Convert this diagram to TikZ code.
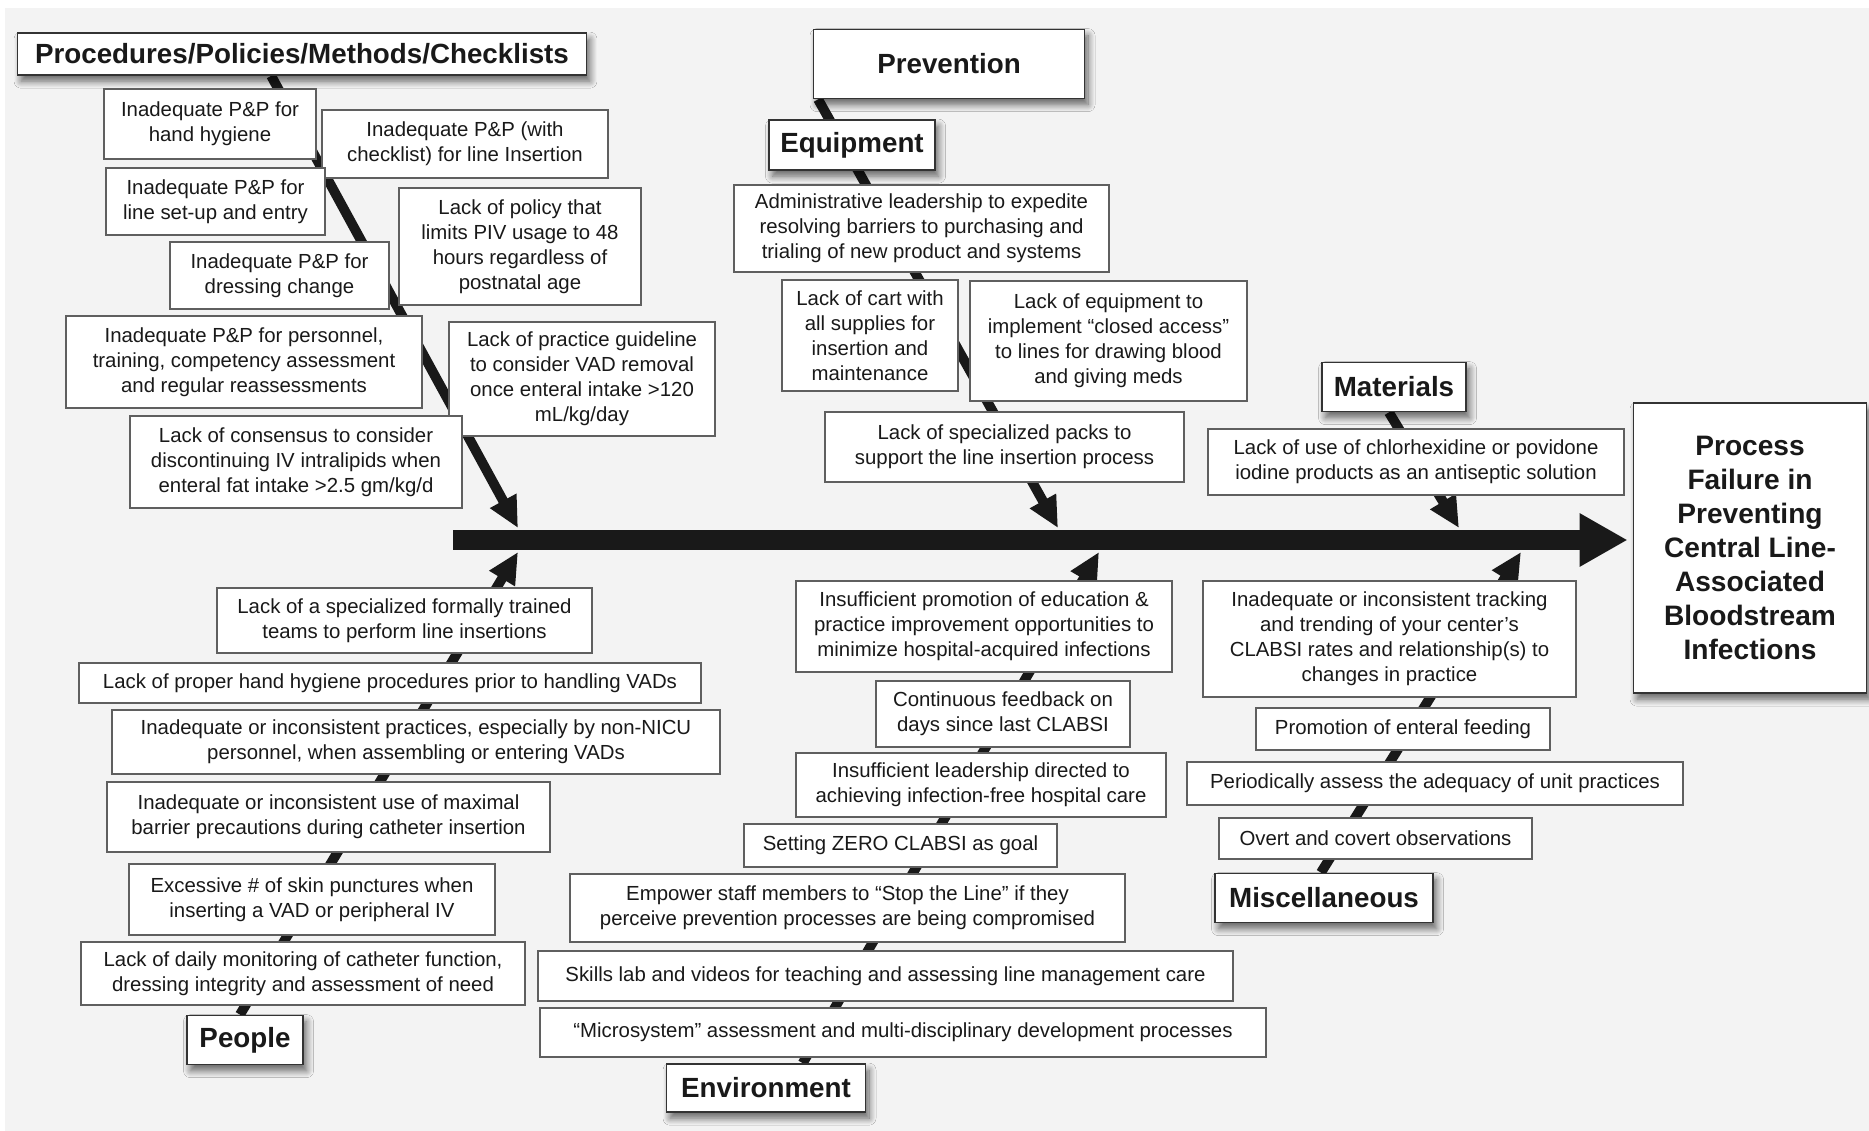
\documentclass[tikz,border=0pt]{standalone}
\usepackage{fontspec}
\setmainfont{Liberation Sans}
\usepackage{tikz}
\usetikzlibrary{positioning, calc, shadows.blur, arrows.meta, backgrounds}
\definecolor{fbBack}{RGB}{243,243,243}
\definecolor{fbInk}{RGB}{25,25,25}
\definecolor{fbEdge}{RGB}{95,95,95}

\begin{document}
\begin{tikzpicture}[x=0.02cm, y=-0.02cm,
    cause/.style={draw=fbEdge, fill=white, line width=0.8pt, inner sep=1pt, align=center, text=fbInk, font=\fontsize{11.6}{14.2}\selectfont},
    head/.style={draw=black!80, fill=white, line width=1pt, inner sep=1pt, align=center, text=fbInk, font=\fontsize{15.8}{19}\selectfont\bfseries,
      blur shadow={shadow xshift=2pt, shadow yshift=-3.5pt, shadow blur radius=4pt, shadow blur steps=10, shadow opacity=60}},
    wh/.style 2 args={minimum width=#1cm, minimum height=#2cm},
    branch/.style={line width=5.6pt, fbInk, -{Triangle[length=0.62cm, width=0.56cm]}},
    spine/.style={line width=11.4pt, fbInk, -{Triangle[length=0.96cm, width=1cm]}, shorten >=0.1cm}
  ]
  \useasboundingbox (0,0) rectangle (1869,1131);

  \node[head, wh={11.38}{0.84}] (proc) at (302,54) {Procedures/Policies/Methods/Checklists};
  \node[head, wh={5.42}{1.38}] (prev) at (949,64) {Prevention};
  \node[head, wh={3.32}{1.00}] (equip) at (852,145) {Equipment};
  \node[head, wh={2.88}{0.98}] (mat) at (1394,387) {Materials};
  \node[head, wh={2.32}{0.98}] (people) at (245,1040) {People};
  \node[head, wh={3.98}{0.96}] (env) at (766,1088) {Environment};
  \node[head, wh={4.36}{0.98}] (misc) at (1324,898) {Miscellaneous};
  \node[head, wh={4.66}{5.80}, font=\fontsize{16}{19.4}\selectfont\bfseries] (fail) at (1750,548)
    {Process\\Failure in\\Preventing\\Central Line-\\Associated\\Bloodstream\\Infections};

  \node[cause, wh={4.24}{1.40}] (pp1) at (210,124) {Inadequate P\&P for\\hand hygiene};
  \node[cause, wh={5.72}{1.36}] (pp2) at (465,144) {Inadequate P\&P (with\\checklist) for line Insertion};
  \node[cause, wh={4.38}{1.34}] (pp3) at (215.5,201.5) {Inadequate P\&P for\\line set-up and entry};
  \node[cause, wh={4.84}{2.34}] (pp4) at (520,246.5) {Lack of policy that\\limits PIV usage to 48\\hours regardless of\\postnatal age};
  \node[cause, wh={4.38}{1.34}] (pp5) at (279.5,275.5) {Inadequate P\&P for\\dressing change};
  \node[cause, wh={7.12}{1.84}] (pp6) at (244,362) {Inadequate P\&P for personnel,\\training, competency assessment\\and regular reassessments};
  \node[cause, wh={5.32}{2.28}] (pp7) at (582,379) {Lack of practice guideline\\to consider VAD removal\\once enteral intake >120\\mL/kg/day};
  \node[cause, wh={6.64}{1.84}] (pp8) at (296,462) {Lack of consensus to consider\\discontinuing IV intralipids when\\enteral fat intake >2.5 gm/kg/d};

  \node[cause, wh={7.50}{1.74}] (eq1) at (921.5,228.5) {Administrative leadership to expedite\\resolving barriers to purchasing and\\trialing of new product and systems};
  \node[cause, wh={3.52}{2.22}] (eq2) at (870,335.5) {Lack of cart with\\all supplies for\\insertion and\\maintenance};
  \node[cause, wh={5.54}{2.40}] (eq3) at (1108.5,341) {Lack of equipment to\\implement “closed access”\\to lines for drawing blood\\and giving meds};
  \node[cause, wh={7.18}{1.40}] (eq4) at (1004.5,447) {Lack of specialized packs to\\support the line insertion process};
  \node[cause, wh={8.32}{1.32}] (ma1) at (1416,462) {Lack of use of chlorhexidine or povidone\\iodine products as an antiseptic solution};

  \node[cause, wh={7.50}{1.30}] (pe1) at (404.5,620.5) {Lack of a specialized formally trained\\teams to perform line insertions};
  \node[cause, wh={12.44}{0.80}] (pe2) at (390,683) {Lack of proper hand hygiene procedures prior to handling VADs};
  \node[cause, wh={12.16}{1.28}] (pe3) at (416,742) {Inadequate or inconsistent practices, especially by non-NICU\\personnel, when assembling or entering VADs};
  \node[cause, wh={8.86}{1.40}] (pe4) at (328.5,817) {Inadequate or inconsistent use of maximal\\barrier precautions during catheter insertion};
  \node[cause, wh={7.32}{1.42}] (pe5) at (312,899.5) {Excessive \# of skin punctures when\\inserting a VAD or peripheral IV};
  \node[cause, wh={8.88}{1.26}] (pe6) at (303,973.5) {Lack of daily monitoring of catheter function,\\dressing integrity and assessment of need};

  \node[cause, wh={7.52}{1.82}] (en1) at (984,626.5) {Insufficient promotion of education \&\\practice improvement opportunities to\\minimize hospital-acquired infections};
  \node[cause, wh={5.08}{1.32}] (en2) at (1003,714) {Continuous feedback on\\days since last CLABSI};
  \node[cause, wh={7.40}{1.28}] (en3) at (981,785) {Insufficient leadership directed to\\achieving infection-free hospital care};
  \node[cause, wh={6.26}{0.86}] (en4) at (900.5,845.5) {Setting ZERO CLABSI as goal};
  \node[cause, wh={11.10}{1.36}] (en5) at (847.5,908) {Empower staff members to “Stop the Line” if they\\perceive prevention processes are being compromised};
  \node[cause, wh={13.90}{1.00}] (en6) at (885.5,976) {Skills lab and videos for teaching and assessing line management care};
  \node[cause, wh={14.52}{0.98}] (en7) at (903,1032.5) {“Microsystem” assessment and multi-disciplinary development processes};

  \node[cause, wh={7.46}{2.32}] (mi1) at (1389.5,639) {Inadequate or inconsistent tracking\\and trending of your center’s\\CLABSI rates and relationship(s) to\\changes in practice};
  \node[cause, wh={5.88}{0.84}] (mi2) at (1403,729) {Promotion of enteral feeding};
  \node[cause, wh={9.92}{0.86}] (mi3) at (1435,783.5) {Periodically assess the adequacy of unit practices};
  \node[cause, wh={6.26}{0.82}] (mi4) at (1375.5,838.5) {Overt and covert observations};

  \coordinate (spineStart) at (453,540);
  \coordinate (procTip) at (518,528);
  \coordinate (equipTip) at (1058,528);
  \coordinate (matTip) at (1459,528);
  \coordinate (peopleTip) at (518,552);
  \coordinate (envTip) at (1099,552);
  \coordinate (miscTip) at (1521,552);

  \begin{scope}[on background layer]
    \fill[white] (0,0) rectangle (1869,1131);
    \fill[fbBack] (5,8) rectangle (1869,1131);
    \draw[spine] (spineStart) -- (spineStart -| fail.west);
    \draw[branch] ($(proc.south west)!0.446!(proc.south east)$) -- (procTip);
    \draw[branch] ($(prev.south west)!0.02!(prev.south east)$) -- (equipTip);
    \draw[branch] ($(mat.south west)!0.465!(mat.south east)$) -- (matTip);
    \draw[branch] ($(people.north west)!0.457!(people.north east)$) -- (peopleTip);
    \draw[branch] ($(env.north west)!0.683!(env.north east)$) -- (envTip);
    \draw[branch] ($(misc.north west)!0.486!(misc.north east)$) -- (miscTip);
  \end{scope}
\end{tikzpicture}
\end{document}
